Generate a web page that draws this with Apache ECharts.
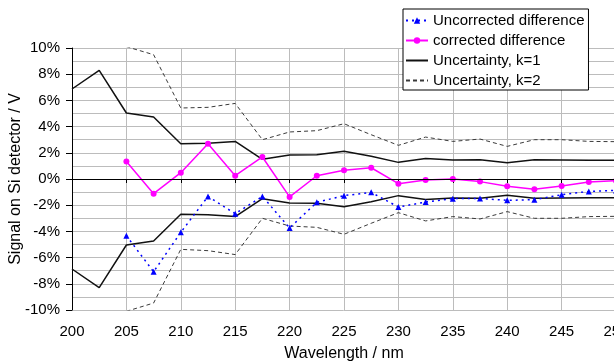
<!DOCTYPE html>
<html>
<head>
<meta charset="utf-8">
<script src="https://cdn.jsdelivr.net/npm/echarts@6/dist/echarts.min.js"></script>
<style>html,body{margin:0;padding:0;background:#fff}#c{width:614px;height:361px}</style>
</head>
<body>
<div id="c"></div>
<script>
var wavelength = [200,202.5,205,207.5,210,212.5,215,217.5,220,222.5,225,227.5,230,232.5,235,237.5,240,242.5,245,247.5,250];
var uncorrected = [null,null,-4.33,-7.08,-4.07,-1.33,-2.65,-1.33,-3.74,-1.78,-1.27,-1.02,-2.14,-1.76,-1.5,-1.48,-1.63,-1.58,-1.2,-0.95,-0.87];
var corrected = [null,null,1.34,-1.12,0.48,2.69,0.25,1.68,-1.37,0.25,0.66,0.86,-0.36,-0.08,0.0,-0.2,-0.56,-0.79,-0.53,-0.23,-0.13];
var k1Upper = [6.87,8.29,5.04,4.73,2.69,2.72,2.87,1.50,1.83,1.85,2.11,1.73,1.27,1.57,1.45,1.47,1.24,1.47,1.45,1.43,1.43];
var k1Lower = [-6.87,-8.29,-5.04,-4.73,-2.69,-2.72,-2.87,-1.50,-1.83,-1.85,-2.11,-1.73,-1.27,-1.57,-1.45,-1.47,-1.24,-1.47,-1.45,-1.43,-1.43];
var k2Upper = [null,null,10.1,9.49,5.42,5.47,5.77,3.0,3.59,3.69,4.22,3.38,2.57,3.2,2.87,3.05,2.49,3.0,3.0,2.87,2.85];
var k2Lower = [null,null,-10.1,-9.47,-5.37,-5.47,-5.77,-3.0,-3.59,-3.69,-4.22,-3.38,-2.57,-3.2,-2.87,-3.05,-2.49,-3.0,-3.0,-2.87,-2.85];
var xTicks = {min:200, max:250, step:5};
var yTicks = {min:-10, max:10, step:2};
var legendNames = ['Uncorrected difference','corrected difference','Uncertainty, k=1','Uncertainty, k=2'];

function pairs(ys){ return wavelength.map(function(x,i){ return [x, ys[i]]; }); }

var FONT = 'Liberation Sans, Arial, sans-serif';
var chart = echarts.init(document.getElementById('c'), null, {renderer:'canvas'});
chart.setOption({
  animation:false,
  backgroundColor:'#fff',
  textStyle:{fontFamily:FONT},
  grid:{left:72, top:48, right:-2, bottom:51, containLabel:false, outerBoundsMode:'none'},
  legend:{
    orient:'vertical', left:403, top:9,
    data:[
      {name:legendNames[0]},
      {name:legendNames[1]},
      {name:legendNames[2], itemStyle:{opacity:0}},
      {name:legendNames[3], itemStyle:{opacity:0}}
    ],
    backgroundColor:'#fff', borderColor:'#000', borderWidth:1,
    padding:[4,4,2,2], itemWidth:22, itemHeight:8, itemGap:5,
    textStyle:{fontFamily:FONT, fontSize:15, color:'#000'}
  },
  xAxis:[{
    type:'value', min:xTicks.min, max:xTicks.max, interval:xTicks.step,
    name:'Wavelength / nm', nameLocation:'middle', nameGap:36, nameMoveOverlap:false,
    nameTextStyle:{fontFamily:FONT, fontSize:16, color:'#000'},
    axisLine:{show:false, onZero:false}, axisTick:{show:false},
    axisLabel:{fontFamily:FONT, fontSize:15, color:'#000', margin:14, showMaxLabel:true},
    splitLine:{show:true, lineStyle:{color:'#bcbcbc', width:1}}
  },{
    type:'value', min:xTicks.min, max:xTicks.max, interval:xTicks.step, position:'bottom',
    axisLine:{show:true, onZero:true, onZeroAxisIndex:0, lineStyle:{color:'#000', width:1}},
    axisTick:{show:true, length:4, lineStyle:{color:'#000'}},
    axisLabel:{show:false}, splitLine:{show:false}
  }],
  yAxis:{
    type:'value', min:yTicks.min, max:yTicks.max, interval:yTicks.step,
    name:'Signal on Si detector / V', nameLocation:'middle', nameGap:48, nameMoveOverlap:false,
    nameTextStyle:{fontFamily:FONT, fontSize:16, color:'#000'},
    axisLine:{show:true, onZero:false, lineStyle:{color:'#000', width:1}},
    axisTick:{show:true, length:6, lineStyle:{color:'#000'}},
    axisLabel:{fontFamily:FONT, fontSize:15, color:'#000', margin:12, formatter:'{value}%'},
    splitLine:{show:true, lineStyle:{color:'#bcbcbc', width:1}},
    minorTick:{show:false, splitNumber:2},
    minorSplitLine:{show:true, lineStyle:{color:'#bcbcbc', width:1}}
  },
  series:[
    {name:legendNames[3], type:'line', data:pairs(k2Upper), symbol:'none',
     lineStyle:{color:'#3a3a3a', width:1, type:[4,3]}, itemStyle:{color:'#3a3a3a'},
     markLine:{silent:true, symbol:'none', label:{show:false},
       lineStyle:{color:'#000', width:1, type:'solid'}, data:[{yAxis:0}]}},
    {name:legendNames[3], type:'line', data:pairs(k2Lower), symbol:'none',
     lineStyle:{color:'#3a3a3a', width:1, type:[4,3]}, itemStyle:{color:'#3a3a3a'}},
    {name:legendNames[2], type:'line', data:pairs(k1Upper), symbol:'none',
     lineStyle:{color:'#111', width:1.5}, itemStyle:{color:'#111'}},
    {name:legendNames[2], type:'line', data:pairs(k1Lower), symbol:'none',
     lineStyle:{color:'#111', width:1.5}, itemStyle:{color:'#111'}},
    {name:legendNames[0], type:'line', data:pairs(uncorrected), symbol:'triangle', symbolSize:6,
     lineStyle:{color:'#0000ff', width:1.5, type:[2,4]}, itemStyle:{color:'#0000ff'}},
    {name:legendNames[1], type:'line', data:pairs(corrected), symbol:'circle', symbolSize:6,
     lineStyle:{color:'#ff00ff', width:1.5}, itemStyle:{color:'#ff00ff'}}
  ]
});
</script>
</body>
</html>
